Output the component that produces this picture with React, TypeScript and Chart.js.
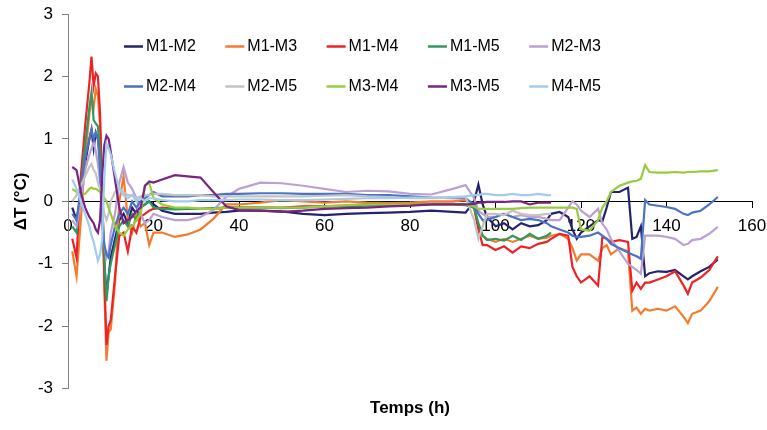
import React, { useEffect, useRef } from "react";
import { Chart, registerables } from "chart.js";

Chart.register(...registerables);

// Time (h) sample positions
const hours = [
  1, 2, 3, 4, 5,
  5.5, 6, 6.5, 7, 7.5, 8, 8.5, 9, 9.5, 10,
  11, 12, 13, 14, 15, 16, 17, 18, 19, 20,
  22, 25, 28, 31, 34, 37, 40,
  45, 50, 55, 60, 65, 70, 75, 80, 85, 90,
  93, 95, 96, 97, 98,
  100, 102, 104, 106, 108, 110, 112,
  113,
  115, 117, 118, 119, 120,
  122, 124, 125, 126, 127, 129, 131,
  132, 133, 134, 135, 136,
  138, 140, 142, 144, 145, 146, 148, 150, 152,
];

const seriesNames = ["M1-M2", "M1-M3", "M1-M4", "M1-M5", "M2-M3", "M2-M4", "M2-M5", "M3-M4", "M3-M5", "M4-M5"];

const m1m2 = [
  -0.1, -0.3, 0.1, 0.6, 1.0,
  1.15, 0.85, 1.1, 1.0, 0.7, -0.2, -1.0, -1.5, -1.2, -0.9,
  -0.6, -0.3, -0.2, -0.35, -0.1, -0.2, -0.1, -0.05, 0.0, -0.05,
  -0.15, -0.2, -0.2, -0.2, -0.18, -0.17, -0.15,
  -0.15, -0.16, -0.2, -0.22, -0.2, -0.19, -0.18, -0.17, -0.15, -0.17,
  -0.18, 0.0, 0.27, -0.05, -0.25,
  -0.4, -0.35, -0.45, -0.35, -0.4, -0.38, -0.3,
  -0.2,
  -0.17, -0.25, -0.45, -0.6, -0.5,
  -0.4, -0.3, -0.32, -0.1, 0.15, 0.15, 0.22,
  -0.6, -0.57, -0.4, -1.2, -1.15,
  -1.12, -1.13, -1.1, -1.2, -1.25, -1.2, -1.12, -1.05, -0.93,
];

const m1m3 = [
  -0.8, -1.2, -0.3, 0.7, 1.4,
  1.65, 1.5, 1.8, 1.7, 1.2, 0.2, -1.4, -2.55, -2.1, -2.05,
  -1.3, 0.0, 0.4, -0.3, -0.5, -0.2, -0.4, -0.35, -0.7, -0.5,
  -0.5, -0.57, -0.53, -0.45, -0.28, -0.05, -0.05,
  -0.02, 0.02, 0.0, -0.02, 0.0, -0.02, -0.03, -0.02, 0.0, 0.0,
  0.02, -0.1, -0.4, -0.55, -0.6,
  -0.65, -0.6, -0.65, -0.6, -0.55, -0.6, -0.58,
  -0.55,
  -0.52, -0.6, -0.75, -0.95, -0.85,
  -0.85, -0.95, -0.75, -0.7, -0.85, -0.75, -0.8,
  -1.75, -1.7, -1.8, -1.72, -1.75,
  -1.72, -1.75, -1.68, -1.85, -1.95, -1.8, -1.75, -1.6, -1.37,
];

const m1m4 = [
  -0.6, -0.9, 0.4, 1.2, 1.9,
  2.32, 1.85, 2.05, 2.0, 1.4, 0.2, -1.2, -2.3, -2.0, -1.9,
  -1.2, -0.55, -0.5, -0.8, -0.4, -0.5, -0.25, -0.2, -0.15, -0.12,
  -0.1, -0.12, -0.12, -0.12, -0.12, -0.1, -0.1,
  -0.1, -0.1, -0.08, -0.08, -0.07, -0.05, -0.05, -0.05, -0.04, -0.04,
  -0.05, -0.1, -0.45, -0.7, -0.7,
  -0.78, -0.72, -0.82, -0.72, -0.75, -0.68, -0.65,
  -0.6,
  -0.52, -0.55, -1.05, -1.2, -1.3,
  -1.2, -1.35, -0.57, -0.6, -0.65, -0.62, -0.65,
  -1.43, -1.3, -1.4, -1.3, -1.3,
  -1.25, -1.2, -1.12, -1.35, -1.48, -1.3, -1.22, -1.1, -0.88,
];

const m1m5 = [
  -0.4, -0.5, 0.2, 0.9, 1.5,
  1.75, 1.3, 1.25, 1.2, 0.8, 0.0, -0.9, -1.6, -1.2, -1.0,
  -0.7, -0.4, -0.3, -0.4, -0.2, -0.3, -0.1, -0.05, 0.0, -0.1,
  -0.12, -0.13, -0.12, -0.12, -0.11, -0.1, -0.1,
  -0.1, -0.11, -0.1, -0.08, -0.08, -0.07, -0.06, -0.06, -0.05, -0.05,
  -0.06, -0.1, -0.35, -0.55, -0.62,
  -0.6, -0.63, -0.55, -0.62, -0.52, -0.6, -0.55,
  -0.5,
];

const m2m3 = [
  -0.3, -0.4, 0.0, 0.5, 0.75,
  0.85, 0.95, 0.8, 0.6, 0.3, -0.3, -0.7, -0.9, -0.8, -0.5,
  -0.2, 0.3, 0.55, 0.3, 0.2, 0.05, -0.2, -0.35, -0.3, -0.2,
  -0.25, -0.3, -0.3, -0.25, -0.14, 0.07, 0.2,
  0.3, 0.29, 0.25, 0.2, 0.15, 0.17, 0.16, 0.12, 0.11, 0.2,
  0.26, 0.05, -0.15, -0.2, -0.25,
  -0.25, -0.2, -0.25, -0.22, -0.25, -0.25, -0.28,
  -0.3,
  -0.3, -0.1, 0.0, -0.05, -0.15,
  -0.25, -0.12, -0.36, -0.45, -0.6, -0.8, -1.0,
  -1.05, -1.1, -1.16, -0.55, -0.55,
  -0.55, -0.57, -0.6, -0.7, -0.68, -0.62, -0.6, -0.52, -0.41,
];

const m2m4 = [
  -0.2, -0.3, 0.2, 0.7, 1.0,
  1.15, 1.0, 1.1, 1.0, 0.5, -0.3, -0.7, -0.85, -0.9, -0.7,
  -0.4, -0.2, -0.1, -0.2, 0.0, -0.1, 0.0, 0.05, 0.1, 0.15,
  0.08, 0.08, 0.08, 0.1, 0.1, 0.12, 0.12,
  0.13, 0.13, 0.12, 0.12, 0.12, 0.1, 0.1, 0.08, 0.06, 0.05,
  0.05, -0.05, -0.2, -0.3, -0.3,
  -0.25, -0.2, -0.25, -0.3, -0.28, -0.3, -0.35,
  -0.4,
  -0.45, -0.5, -0.55, -0.57, -0.57,
  -0.55, -0.5, -0.55, -0.6, -0.68, -0.75, -0.82,
  -0.85, -0.88, -0.92, 0.02, -0.05,
  -0.07, -0.09, -0.12, -0.2, -0.22, -0.18, -0.15, -0.05, 0.07,
];

const m2m5 = [
  0.0, 0.1, 0.25, 0.4, 0.55,
  0.6, 0.5, 0.45, 0.3, 0.2, 0.0, -0.2, -0.3, -0.2, 0.0,
  0.15, 0.2, 0.15, 0.1, 0.1, 0.05, 0.08, 0.1, 0.1, 0.12,
  0.12, 0.1, 0.1, 0.1, 0.08, 0.08, 0.08,
  0.08, 0.08, 0.08, 0.09, 0.1, 0.08, 0.07, 0.05, 0.05, 0.06,
  0.07, -0.3, -0.6, -0.4, -0.2,
  -0.2, -0.22, -0.15, -0.2, -0.22, -0.22, -0.2,
  -0.2,
];

const m3m4 = [
  0.2, 0.15, 0.1, 0.12, 0.2,
  0.22, 0.2, 0.2, 0.18, 0.15, 0.12, 0.05, 0.0, -0.1, -0.2,
  -0.4, -0.5, -0.55, -0.45, -0.4, -0.3, -0.2, 0.25, 0.3, 0.05,
  -0.05, -0.1, -0.1, -0.12, -0.12, -0.1, -0.1,
  -0.1, -0.1, -0.1, -0.08, -0.06, -0.05, -0.05, -0.05, -0.05, -0.05,
  -0.05, -0.08, -0.12, -0.12, -0.12,
  -0.12, -0.12, -0.12, -0.11, -0.1, -0.1, -0.1,
  -0.1,
  -0.1, -0.1, -0.1, -0.12, -0.45,
  -0.47, -0.3, -0.1, 0.0, 0.15, 0.25, 0.3,
  0.32, 0.33, 0.36, 0.58, 0.47,
  0.46, 0.46, 0.47, 0.46, 0.47, 0.47, 0.48, 0.48, 0.5,
];

const m3m5 = [
  0.55, 0.5, 0.15, -0.1, -0.25,
  -0.3, -0.35, -0.45, -0.5, -0.3, 0.4, 0.9, 1.05, 1.0, 0.8,
  0.35, -0.1, -0.35, -0.3, -0.25, -0.15, -0.1, 0.25, 0.32, 0.3,
  0.35, 0.42, 0.4, 0.38, 0.15, -0.08, -0.14,
  -0.15, -0.17, -0.15, -0.12, -0.11, -0.1, -0.08, -0.07, -0.05, -0.05,
  -0.05, -0.04, -0.02, -0.02, -0.01,
  -0.01, -0.01, 0.0, 0.0, -0.05, -0.02, -0.02,
  -0.02,
];

const m4m5 = [
  0.35, 0.2, 0.0, -0.2, -0.4,
  -0.55, -0.65, -0.8, -0.95, -0.85, -0.6, 0.4, 0.92, 0.85, 0.75,
  0.45, 0.2, 0.1, 0.05, 0.1, 0.0, 0.05, 0.0, 0.05, 0.05,
  0.02, 0.0, 0.0, 0.02, 0.02, 0.02, 0.03,
  0.03, 0.02, 0.02, 0.03, 0.04, 0.05, 0.05, 0.06, 0.06, 0.07,
  0.08, 0.1, 0.1, 0.12, 0.12,
  0.1, 0.1, 0.12, 0.1, 0.1, 0.12, 0.1,
  0.1,
];

const seriesValues = [m1m2, m1m3, m1m4, m1m5, m2m3, m2m4, m2m5, m3m4, m3m5, m4m5];

const seriesColors = [
  "#24236F", "#F47B2E", "#EE2226", "#2F9960", "#BBA0D4",
  "#4A73C2", "#C3C3C3", "#9ACB3C", "#7A2383", "#A2CBEE",
];

const FONT = '"Liberation Sans", Arial, sans-serif';

const gridLegend = {
  id: "gridLegend",
  afterDraw(chart: any) {
    const ctx = chart.ctx;
    const left = chart.chartArea.left;
    chart.data.datasets.forEach((ds: any, i: number) => {
      const row = Math.floor(i / 5);
      const col = i % 5;
      const x = left + 56 + col * 101.3;
      const y = 46.5 + row * 40;
      ctx.save();
      ctx.strokeStyle = ds.borderColor;
      ctx.lineWidth = 2.5;
      ctx.beginPath();
      ctx.moveTo(x, y);
      ctx.lineTo(x + 19, y);
      ctx.stroke();
      ctx.fillStyle = "#000";
      ctx.font = "16px " + FONT;
      ctx.textBaseline = "middle";
      ctx.textAlign = "left";
      ctx.fillText(ds.label, x + 22, y + 0.5);
      ctx.restore();
    });
  },
};

const noPadding = (scale: any) => {
  scale.paddingLeft = 0;
  scale.paddingRight = 0;
  scale.paddingTop = 0;
  scale.paddingBottom = 0;
};

export default function App() {
  const canvasRef = useRef<HTMLCanvasElement | null>(null);

  useEffect(() => {
    if (!canvasRef.current) return;
    const datasets = seriesNames.map((name, i) => ({
      label: name,
      data: seriesValues[i].map((v, k) => ({ x: hours[k], y: v })),
      borderColor: seriesColors[i],
      backgroundColor: seriesColors[i],
      borderWidth: 2.2,
      pointRadius: 0,
      tension: 0,
      fill: false,
      order: seriesNames.length - i,
    }));

    const chart = new Chart(canvasRef.current, {
      type: "line",
      data: { datasets },
      plugins: [gridLegend],
      options: {
        animation: false,
        responsive: false,
        devicePixelRatio: 1,
        layout: { padding: { left: 8, right: 15, top: 14, bottom: 8.4 } },
        plugins: {
          legend: { display: false },
          tooltip: { enabled: false },
          title: {
            display: true,
            position: "bottom",
            fullSize: false,
            text: "Temps (h)",
            color: "#000",
            font: { family: FONT, size: 17, weight: "bold" },
            padding: { top: 9.5, bottom: 3 },
          },
        },
        scales: {
          x: {
            type: "linear",
            position: { y: 0 },
            min: 0,
            max: 160,
            afterFit: noPadding,
            ticks: {
              stepSize: 20,
              color: "#000",
              padding: 9,
              maxRotation: 0,
              font: { family: FONT, size: 17 },
            },
            grid: { drawOnChartArea: false, drawTicks: true, tickLength: 6, color: "#000" },
            border: { color: "#000", width: 1 },
          },
          y: {
            type: "linear",
            min: -3,
            max: 3,
            afterFit: (scale: any) => {
              scale.width = 60;
              noPadding(scale);
            },
            ticks: {
              stepSize: 1,
              color: "#000",
              padding: 9,
              font: { family: FONT, size: 17 },
            },
            grid: { drawOnChartArea: false, drawTicks: true, tickLength: 6, color: "#808080" },
            border: { color: "#808080", width: 1 },
            title: {
              display: true,
              text: "ΔT (°C)",
              color: "#000",
              font: { family: FONT, size: 17, weight: "bold" },
              padding: { top: 3, bottom: 0 },
            },
          },
        },
      },
    });
    return () => chart.destroy();
  }, []);

  return (
    <div style={{ position: "fixed", left: 0, top: 0, width: 767, height: 430, background: "#fff" }}>
      <canvas ref={canvasRef} width={767} height={430} />
    </div>
  );
}
